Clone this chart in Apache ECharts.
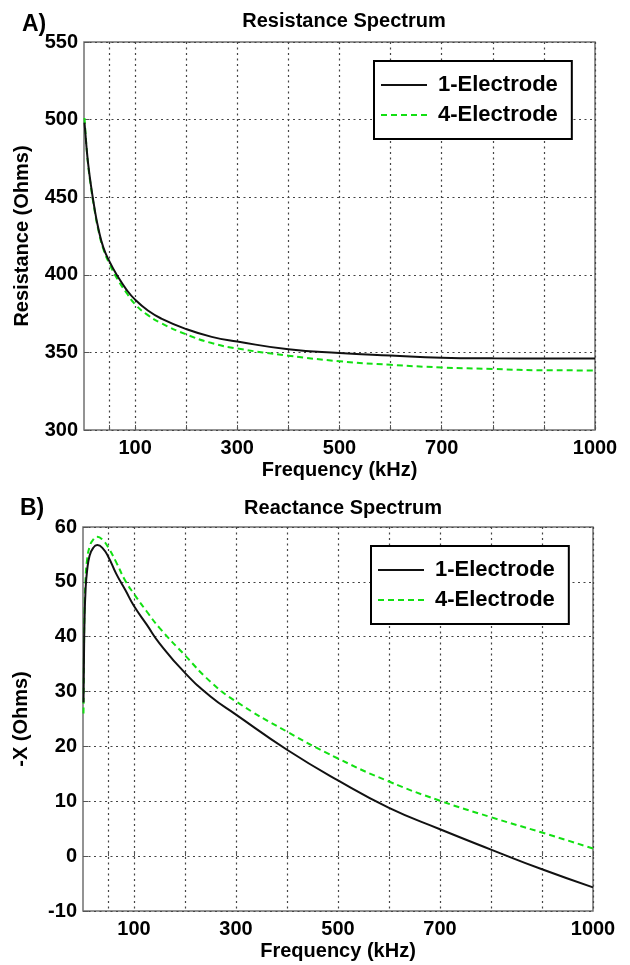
<!DOCTYPE html>
<html>
<head>
<meta charset="utf-8">
<script src="https://cdn.jsdelivr.net/npm/echarts@6/dist/echarts.min.js"></script>
<style>
  html, body { margin: 0; padding: 0; background: #fff; }
  #main { width: 630px; height: 965px; }
</style>
</head>
<body>
<div id="main"></div>
<script>
  // frequency samples (kHz)
  const freqs = [1, 2, 3, 5, 8, 13, 20, 28, 38, 50, 65, 83, 100, 125, 150, 200, 250, 300, 400, 500, 600, 700, 800, 900, 1000];
  // resistance (Ohms)
  const res1 = [498, 494, 490, 482, 472, 459, 444, 430, 417.5, 408.5, 399.5, 390.5, 384, 377, 372, 365, 360, 357, 352, 349.6, 348, 346.6, 346.2, 346.1, 346];
  const res4 = [501, 496, 491, 482, 471, 458, 443, 429, 416.5, 407, 397.5, 388.5, 381, 374, 369, 361.6, 356, 352.5, 347.9, 344.3, 342, 340.3, 339.3, 338.5, 338.4];
  // -X reactance (Ohms)
  const reac1 = [28, 37, 43, 48.5, 52, 54.8, 56.2, 56.7, 56.2, 54.5, 51.5, 48.5, 45.6, 42.2, 38.8, 33.4, 29.1, 25.8, 19.4, 13.8, 8.8, 4.9, 1.2, -2.4, -5.7];
  const reac4 = [26, 38, 45, 50.5, 54, 56.4, 57.7, 58.2, 57.7, 56.2, 53.6, 50.2, 47.8, 44.6, 41.6, 36.6, 31.8, 28.2, 22.7, 17.8, 13.6, 10.1, 7.1, 4.3, 1.4];
  // ticks
  const xGridTicks = [50, 100, 200, 300, 400, 500, 600, 700, 800, 900, 1000];
  const xLabelTicks = [100, 300, 500, 700, 1000];

  const FONT = 'Liberation Sans, Arial, sans-serif';
  const BLACK = '#111111';
  const GREEN = '#12e012';

  function pairs(xs, ys) {
    return xs.map((x, i) => [x, ys[i]]);
  }

  const gridLine = { show: true, lineStyle: { color: '#444', type: [2, 3.5], width: 1.2 } };
  const labelStyle = { color: '#000', fontFamily: FONT, fontWeight: 'bold', fontSize: 20 };

  function xAxisFor(gridIndex) {
    return {
      type: 'value', gridIndex: gridIndex, min: 0, max: 1000,
      name: 'Frequency (kHz)', nameLocation: 'middle', nameGap: 30,
      nameTextStyle: labelStyle,
      axisLine: { show: false },
      axisTick: { show: true, inside: true, length: 5, customValues: xGridTicks, lineStyle: { color: '#555' } },
      axisLabel: Object.assign({ customValues: xLabelTicks, margin: 8, formatter: v => String(v) }, labelStyle),
      splitLine: gridLine
    };
  }

  function yAxisFor(gridIndex, min, max, interval, name) {
    return {
      type: 'value', gridIndex: gridIndex, min: min, max: max, interval: interval,
      name: name, nameLocation: 'middle', nameGap: 52, nameRotate: 90,
      nameTextStyle: labelStyle,
      axisLine: { show: false },
      axisTick: { show: true, inside: true, length: 5, lineStyle: { color: '#555' } },
      axisLabel: Object.assign({ margin: 6, formatter: v => String(v) }, labelStyle),
      splitLine: gridLine
    };
  }

  function lineSeries(name, data, color, dashed, axisIndex) {
    return {
      name: name, type: 'line', xAxisIndex: axisIndex, yAxisIndex: axisIndex,
      data: data, showSymbol: false, symbol: 'none',
      smooth: true,
      lineStyle: { color: color, width: 2, type: dashed ? [6, 4] : 'solid' },
      itemStyle: { color: color },
      z: dashed ? 3 : 4
    };
  }

  const legendBase = {
    orient: 'vertical', itemWidth: 46, itemHeight: 14, itemGap: 8,
    borderColor: '#000', borderWidth: 2, backgroundColor: '#fff',
    padding: [13, 14, 13, 6],
    itemStyle: { opacity: 0 },
    textStyle: { color: '#000', fontFamily: FONT, fontWeight: 'bold', fontSize: 22, padding: [0, 0, 0, 6] },
    data: ['1-Electrode', '4-Electrode']
  };

  const chart = echarts.init(document.getElementById('main'));
  chart.setOption({
    animation: false,
    backgroundColor: '#fff',
    title: [
      { text: 'Resistance Spectrum', left: 339, top: 6, textAlign: 'center',
        textStyle: { fontFamily: FONT, fontWeight: 'bold', fontSize: 20, color: '#000' } },
      { text: 'Reactance Spectrum', left: 338, top: 493, textAlign: 'center',
        textStyle: { fontFamily: FONT, fontWeight: 'bold', fontSize: 20, color: '#000' } },
      { text: 'A)', left: 17, top: 8, textStyle: { fontFamily: FONT, fontWeight: 'bold', fontSize: 23, color: '#000' } },
      { text: 'B)', left: 15, top: 492, textStyle: { fontFamily: FONT, fontWeight: 'bold', fontSize: 23, color: '#000' } }
    ],
    grid: [
      { left: 84, top: 42, width: 511, height: 388, show: true, borderColor: '#707070', borderWidth: 1.5 },
      { left: 83, top: 527, width: 510, height: 384, show: true, borderColor: '#707070', borderWidth: 1.5 }
    ],
    legend: [
      Object.assign({}, legendBase, { left: 374, top: 61 }),
      Object.assign({}, legendBase, { left: 371, top: 546 })
    ],
    xAxis: [xAxisFor(0), xAxisFor(1)],
    yAxis: [
      yAxisFor(0, 300, 550, 50, 'Resistance (Ohms)'),
      yAxisFor(1, -10, 60, 10, '-X (Ohms)')
    ],
    series: [
      lineSeries('1-Electrode', pairs(freqs, res1), BLACK, false, 0),
      lineSeries('4-Electrode', pairs(freqs, res4), GREEN, true, 0),
      lineSeries('1-Electrode', pairs(freqs, reac1), BLACK, false, 1),
      lineSeries('4-Electrode', pairs(freqs, reac4), GREEN, true, 1)
    ]
  });
</script>
</body>
</html>
